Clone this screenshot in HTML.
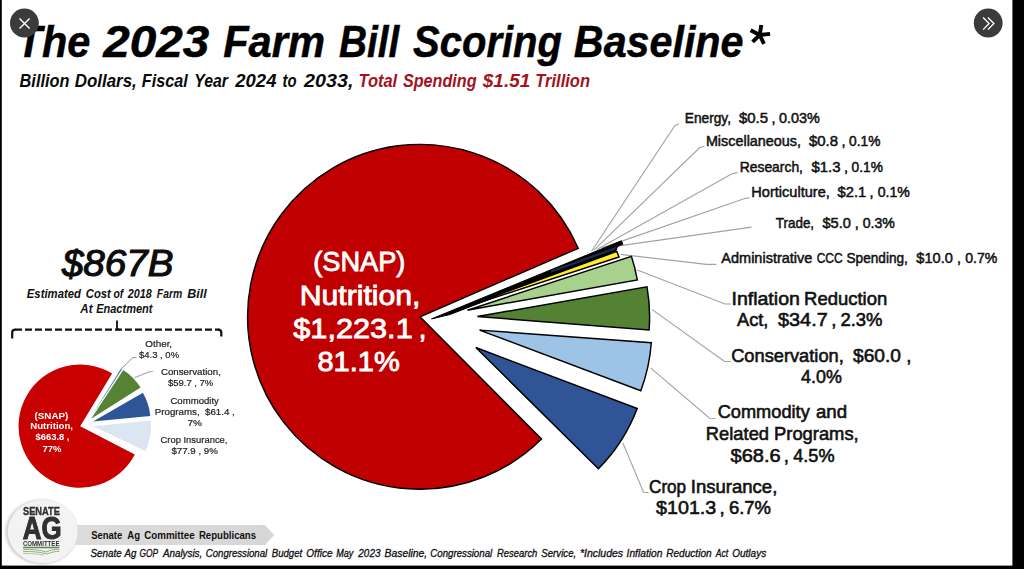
<!DOCTYPE html>
<html><head><meta charset="utf-8"><title>The 2023 Farm Bill Scoring Baseline</title>
<style>
html,body{margin:0;padding:0;background:#fff;}
body{width:1024px;height:569px;overflow:hidden;position:relative;font-family:"Liberation Sans",sans-serif;}
svg{position:absolute;left:0;top:0;display:block;}
text{font-family:"Liberation Sans",sans-serif;white-space:pre;}
.ld{stroke:#a2a2a2;stroke-width:1.15;fill:none;}
.sl{stroke:#000;stroke-width:1.45;stroke-linejoin:miter;}
</style></head><body>
<svg width="1024" height="569" viewBox="0 0 1024 569">
<defs>
<filter id="bl" x="-5%" y="-5%" width="110%" height="110%"><feGaussianBlur stdDeviation="0.55"/></filter>
<filter id="bl2" x="-10%" y="-10%" width="120%" height="120%"><feGaussianBlur stdDeviation="1.2"/></filter>
<linearGradient id="bn" x1="0" x2="1" y1="0" y2="0"><stop offset="0" stop-color="#dcdcdc"/><stop offset="1" stop-color="#d6d6d6"/></linearGradient>
</defs>
<rect x="0" y="0" width="1024" height="569" fill="#fff"/>

<text transform="translate(16.71,57) scale(0.9202,1)" font-size="45" font-weight="bold" font-style="italic" fill="#000" stroke="#000" stroke-width="0.5">The</text>
<text transform="translate(103.24,57) scale(1.0588,1)" font-size="45" font-weight="bold" font-style="italic" fill="#000" stroke="#000" stroke-width="0.5">2023</text>
<text transform="translate(223.15,57) scale(0.9260,1)" font-size="45" font-weight="bold" font-style="italic" fill="#000" stroke="#000" stroke-width="0.5">Farm</text>
<text transform="translate(338.89,57) scale(0.8623,1)" font-size="45" font-weight="bold" font-style="italic" fill="#000" stroke="#000" stroke-width="0.5">Bill</text>
<text transform="translate(413.00,57) scale(0.8894,1)" font-size="45" font-weight="bold" font-style="italic" fill="#000" stroke="#000" stroke-width="0.5">Scoring</text>
<text transform="translate(573.86,57) scale(0.9167,1)" font-size="45" font-weight="bold" font-style="italic" fill="#000" stroke="#000" stroke-width="0.5">Baseline</text>
<path d="M759.7,35 L761.3,25 M759.7,35 L750.6,30.2 M759.7,35 L770.1,33.9 M759.7,35 L752.6,41.9 M759.7,35 L764,43.8" stroke="#000" stroke-width="3.9" fill="none"/>
<text transform="translate(19.54,86.6) scale(0.8797,1)" font-size="18.6" font-weight="bold" font-style="italic" fill="#0a0a0a">Billion</text>
<text transform="translate(74.74,86.6) scale(0.9107,1)" font-size="18.6" font-weight="bold" font-style="italic" fill="#0a0a0a">Dollars,</text>
<text transform="translate(141.75,86.6) scale(0.8713,1)" font-size="18.6" font-weight="bold" font-style="italic" fill="#0a0a0a">Fiscal</text>
<text transform="translate(194.26,86.6) scale(0.8519,1)" font-size="18.6" font-weight="bold" font-style="italic" fill="#0a0a0a">Year</text>
<text transform="translate(235.29,86.6) scale(0.9953,1)" font-size="18.6" font-weight="bold" font-style="italic" fill="#0a0a0a">2024</text>
<text transform="translate(282.54,86.6) scale(0.7985,1)" font-size="18.6" font-weight="bold" font-style="italic" fill="#0a0a0a">to</text>
<text transform="translate(304.11,86.6) scale(1.0606,1)" font-size="18.6" font-weight="bold" font-style="italic" fill="#0a0a0a">2033,</text>
<text transform="translate(358.47,86.6) scale(0.8851,1)" font-size="18.6" font-weight="bold" font-style="italic" fill="#a3131b">Total</text>
<text transform="translate(403.00,86.6) scale(0.8684,1)" font-size="18.6" font-weight="bold" font-style="italic" fill="#a3131b">Spending</text>
<text transform="translate(482.80,86.6) scale(1.0199,1)" font-size="18.6" font-weight="bold" font-style="italic" fill="#a3131b">$1.51</text>
<text transform="translate(535.27,86.6) scale(0.8883,1)" font-size="18.6" font-weight="bold" font-style="italic" fill="#a3131b">Trillion</text>
<polyline class="ld" points="591.5,251.3 675,125.5 679,123.8"/>
<polyline class="ld" points="593.7,250.3 699.5,147.8 704.5,146.2"/>
<polyline class="ld" points="596.9,249.4 731.5,174 737.5,172.4"/>
<polyline class="ld" points="601.6,248.1 744,198.8 749.5,197.6"/>
<polyline class="ld" points="620.6,245.6 751.6,227.1"/>
<polyline class="ld" points="620.6,254.4 706.5,264.4 716.3,264.4"/>
<polyline class="ld" points="637.3,270 725,304 731,304"/>
<polyline class="ld" points="652.2,309.6 724.5,361.5 731,361.5"/>
<polyline class="ld" points="650.6,367.9 709.5,418.3 715.5,418.5"/>
<polyline class="ld" points="622.8,442.9 643.5,492.2 648.5,492.6"/>
<path class="sl" fill="#c00000" d="M420.0,316.8 L541.5,439.1 A172.4,172.4 0 1 1 578.2,248.3 Z"/>
<path fill="#000" stroke="#000" stroke-width="1" stroke-linejoin="miter" d="M431.5,318.9 L621.4,240.8 L622.9,244.2 L617.3,246.8 L616,250.8 L450,314.5 Z"/>
<path fill="#1b2c50" d="M551,270.5 L616.3,246.7 L615.2,249.7 L551,272.7 Z"/>
<path class="sl" stroke-width="1.4" fill="#ffee2e" d="M454,310.9 L616.8,251.4 L619,257 Z"/>
<path class="sl" fill="#a9d18e" d="M467.4,310.2 L631.4,256.3 A172.6,172.6 0 0 1 637.3,279.9 Z"/>
<path class="sl" fill="#548235" d="M477.4,316.5 L647.0,286.9 A172.2,172.2 0 0 1 649.1,330.0 Z"/>
<path class="sl" fill="#9dc3e6" d="M479.6,330.1 L651.3,342.7 A172.2,172.2 0 0 1 640.8,390.7 Z"/>
<path class="sl" fill="#2f5597" d="M475.8,347.5 L637.2,408.5 A172.5,172.5 0 0 1 598.4,468.8 Z"/>
<text transform="translate(313.23,271.2) scale(0.9927,1)" font-size="27.4" font-weight="normal" font-style="normal" fill="#fff" stroke="#fff" stroke-width="0.85">(SNAP)</text>
<text transform="translate(299.64,304.5) scale(1.1029,1)" font-size="27.4" font-weight="normal" font-style="normal" fill="#fff" stroke="#fff" stroke-width="0.85">Nutrition,</text>
<text transform="translate(293.30,338) scale(1.1199,1)" font-size="27.4" font-weight="normal" font-style="normal" fill="#fff" stroke="#fff" stroke-width="0.85">$1,223.1</text>
<text transform="translate(418.80,338) scale(1.0000,1)" font-size="27.4" font-weight="normal" font-style="normal" fill="#fff" stroke="#fff" stroke-width="0.85">,</text>
<text transform="translate(317.39,371.2) scale(1.0616,1)" font-size="27.4" font-weight="normal" font-style="normal" fill="#fff" stroke="#fff" stroke-width="0.85">81.1%</text>
<text transform="translate(684.73,123.1) scale(0.9469,1)" font-size="14.5" font-weight="normal" font-style="normal" fill="#111" stroke="#111" stroke-width="0.5">Energy,</text>
<text transform="translate(739.00,123.1) scale(1.0314,1)" font-size="14.5" font-weight="normal" font-style="normal" fill="#111" stroke="#111" stroke-width="0.5">$0.5</text>
<text transform="translate(771.46,123.1) scale(1.0000,1)" font-size="14.5" font-weight="normal" font-style="normal" fill="#111" stroke="#111" stroke-width="0.5">,</text>
<text transform="translate(779.05,123.1) scale(0.9943,1)" font-size="14.5" font-weight="normal" font-style="normal" fill="#111" stroke="#111" stroke-width="0.5">0.03%</text>
<text transform="translate(705.88,146) scale(0.9926,1)" font-size="14.5" font-weight="normal" font-style="normal" fill="#111" stroke="#111" stroke-width="0.5">Miscellaneous,</text>
<text transform="translate(809.00,146) scale(1.0314,1)" font-size="14.5" font-weight="normal" font-style="normal" fill="#111" stroke="#111" stroke-width="0.5">$0.8</text>
<text transform="translate(841.46,146) scale(1.0000,1)" font-size="14.5" font-weight="normal" font-style="normal" fill="#111" stroke="#111" stroke-width="0.5">,</text>
<text transform="translate(849.07,146) scale(0.9482,1)" font-size="14.5" font-weight="normal" font-style="normal" fill="#111" stroke="#111" stroke-width="0.5">0.1%</text>
<text transform="translate(739.71,172.2) scale(0.9582,1)" font-size="14.5" font-weight="normal" font-style="normal" fill="#111" stroke="#111" stroke-width="0.5">Research,</text>
<text transform="translate(811.50,172.2) scale(1.0314,1)" font-size="14.5" font-weight="normal" font-style="normal" fill="#111" stroke="#111" stroke-width="0.5">$1.3</text>
<text transform="translate(843.96,172.2) scale(1.0000,1)" font-size="14.5" font-weight="normal" font-style="normal" fill="#111" stroke="#111" stroke-width="0.5">,</text>
<text transform="translate(851.57,172.2) scale(0.9482,1)" font-size="14.5" font-weight="normal" font-style="normal" fill="#111" stroke="#111" stroke-width="0.5">0.1%</text>
<text transform="translate(751.36,197) scale(1.0046,1)" font-size="14.5" font-weight="normal" font-style="normal" fill="#111" stroke="#111" stroke-width="0.5">Horticulture,</text>
<text transform="translate(837.50,197) scale(1.0169,1)" font-size="14.5" font-weight="normal" font-style="normal" fill="#111" stroke="#111" stroke-width="0.5">$2.1</text>
<text transform="translate(869.46,197) scale(1.0000,1)" font-size="14.5" font-weight="normal" font-style="normal" fill="#111" stroke="#111" stroke-width="0.5">,</text>
<text transform="translate(877.66,197) scale(0.9731,1)" font-size="14.5" font-weight="normal" font-style="normal" fill="#111" stroke="#111" stroke-width="0.5">0.1%</text>
<text transform="translate(775.79,227.7) scale(0.9261,1)" font-size="14.5" font-weight="normal" font-style="normal" fill="#111" stroke="#111" stroke-width="0.5">Trade,</text>
<text transform="translate(822.50,227.7) scale(1.0086,1)" font-size="14.5" font-weight="normal" font-style="normal" fill="#111" stroke="#111" stroke-width="0.5">$5.0</text>
<text transform="translate(854.86,227.7) scale(1.0000,1)" font-size="14.5" font-weight="normal" font-style="normal" fill="#111" stroke="#111" stroke-width="0.5">,</text>
<text transform="translate(862.66,227.7) scale(0.9731,1)" font-size="14.5" font-weight="normal" font-style="normal" fill="#111" stroke="#111" stroke-width="0.5">0.3%</text>
<text transform="translate(721.30,262.7) scale(1.0014,1)" font-size="14.5" font-weight="normal" font-style="normal" fill="#111" stroke="#111" stroke-width="0.5">Administrative</text>
<text transform="translate(816.64,262.7) scale(0.8269,1)" font-size="14.5" font-weight="normal" font-style="normal" fill="#111" stroke="#111" stroke-width="0.5">CCC</text>
<text transform="translate(846.47,262.7) scale(0.9409,1)" font-size="14.5" font-weight="normal" font-style="normal" fill="#111" stroke="#111" stroke-width="0.5">Spending,</text>
<text transform="translate(916.30,262.7) scale(1.0077,1)" font-size="14.5" font-weight="normal" font-style="normal" fill="#111" stroke="#111" stroke-width="0.5">$10.0</text>
<text transform="translate(956.96,262.7) scale(1.0000,1)" font-size="14.5" font-weight="normal" font-style="normal" fill="#111" stroke="#111" stroke-width="0.5">,</text>
<text transform="translate(965.16,262.7) scale(0.9731,1)" font-size="14.5" font-weight="normal" font-style="normal" fill="#111" stroke="#111" stroke-width="0.5">0.7%</text>
<text transform="translate(731.47,304.5) scale(1.0503,1)" font-size="18.6" font-weight="normal" font-style="normal" fill="#111" stroke="#111" stroke-width="0.6">Inflation</text>
<text transform="translate(804.06,304.5) scale(0.9944,1)" font-size="18.6" font-weight="normal" font-style="normal" fill="#111" stroke="#111" stroke-width="0.6">Reduction</text>
<text transform="translate(737.00,326) scale(0.9787,1)" font-size="18.6" font-weight="normal" font-style="normal" fill="#111" stroke="#111" stroke-width="0.6">Act,</text>
<text transform="translate(778.00,326) scale(1.0701,1)" font-size="18.6" font-weight="normal" font-style="normal" fill="#111" stroke="#111" stroke-width="0.6">$34.7</text>
<text transform="translate(831.13,326) scale(1.0000,1)" font-size="18.6" font-weight="normal" font-style="normal" fill="#111" stroke="#111" stroke-width="0.6">,</text>
<text transform="translate(840.43,326) scale(0.9934,1)" font-size="18.6" font-weight="normal" font-style="normal" fill="#111" stroke="#111" stroke-width="0.6">2.3%</text>
<text transform="translate(731.14,361.5) scale(0.9822,1)" font-size="18.6" font-weight="normal" font-style="normal" fill="#111" stroke="#111" stroke-width="0.6">Conservation,</text>
<text transform="translate(853.00,361.5) scale(1.0308,1)" font-size="18.6" font-weight="normal" font-style="normal" fill="#111" stroke="#111" stroke-width="0.6">$60.0</text>
<text transform="translate(906.13,361.5) scale(1.0000,1)" font-size="18.6" font-weight="normal" font-style="normal" fill="#111" stroke="#111" stroke-width="0.6">,</text>
<text transform="translate(801.02,382.8) scale(0.9627,1)" font-size="18.6" font-weight="normal" font-style="normal" fill="#111" stroke="#111" stroke-width="0.6">4.0%</text>
<text transform="translate(717.65,418.4) scale(0.9798,1)" font-size="18.6" font-weight="normal" font-style="normal" fill="#111" stroke="#111" stroke-width="0.6">Commodity</text>
<text transform="translate(815.92,418.4) scale(1.0031,1)" font-size="18.6" font-weight="normal" font-style="normal" fill="#111" stroke="#111" stroke-width="0.6">and</text>
<text transform="translate(705.87,439.8) scale(0.9852,1)" font-size="18.6" font-weight="normal" font-style="normal" fill="#111" stroke="#111" stroke-width="0.6">Related</text>
<text transform="translate(774.07,439.8) scale(0.9862,1)" font-size="18.6" font-weight="normal" font-style="normal" fill="#111" stroke="#111" stroke-width="0.6">Programs,</text>
<text transform="translate(730.50,461.5) scale(1.0766,1)" font-size="18.6" font-weight="normal" font-style="normal" fill="#111" stroke="#111" stroke-width="0.6">$68.6</text>
<text transform="translate(783.78,461.5) scale(1.0000,1)" font-size="18.6" font-weight="normal" font-style="normal" fill="#111" stroke="#111" stroke-width="0.6">,</text>
<text transform="translate(793.22,461.5) scale(0.9747,1)" font-size="18.6" font-weight="normal" font-style="normal" fill="#111" stroke="#111" stroke-width="0.6">4.5%</text>
<text transform="translate(649.00,493) scale(0.9227,1)" font-size="18.6" font-weight="normal" font-style="normal" fill="#111" stroke="#111" stroke-width="0.6">Crop</text>
<text transform="translate(690.85,493) scale(0.9963,1)" font-size="18.6" font-weight="normal" font-style="normal" fill="#111" stroke="#111" stroke-width="0.6">Insurance,</text>
<text transform="translate(656.00,514) scale(1.0599,1)" font-size="18.6" font-weight="normal" font-style="normal" fill="#111" stroke="#111" stroke-width="0.6">$101.3</text>
<text transform="translate(719.53,514) scale(1.0000,1)" font-size="18.6" font-weight="normal" font-style="normal" fill="#111" stroke="#111" stroke-width="0.6">,</text>
<text transform="translate(728.93,514) scale(0.9934,1)" font-size="18.6" font-weight="normal" font-style="normal" fill="#111" stroke="#111" stroke-width="0.6">6.7%</text>
<text transform="translate(61.90,276.3) scale(1.0633,1)" font-size="36.3" font-weight="normal" font-style="italic" fill="#0c0c0c" stroke="#0c0c0c" stroke-width="1.1">$867B</text>
<text transform="translate(26.82,297.5) scale(0.9440,1)" font-size="12" font-weight="bold" font-style="italic" fill="#111">Estimated</text>
<text transform="translate(85.77,297.5) scale(0.9396,1)" font-size="12" font-weight="bold" font-style="italic" fill="#111">Cost</text>
<text transform="translate(113.44,297.5) scale(0.8685,1)" font-size="12" font-weight="bold" font-style="italic" fill="#111">of</text>
<text transform="translate(127.67,297.5) scale(0.9014,1)" font-size="12" font-weight="bold" font-style="italic" fill="#111">2018</text>
<text transform="translate(156.84,297.5) scale(0.8681,1)" font-size="12" font-weight="bold" font-style="italic" fill="#111">Farm</text>
<text transform="translate(187.30,297.5) scale(1.0423,1)" font-size="12" font-weight="bold" font-style="italic" fill="#111">Bill</text>
<text transform="translate(80.36,312.6) scale(0.9600,1)" font-size="12" font-weight="bold" font-style="italic" fill="#111">At</text>
<text transform="translate(96.13,312.6) scale(0.9195,1)" font-size="12" font-weight="bold" font-style="italic" fill="#111">Enactment</text>
<path d="M15,329.6 L219.5,329.6" fill="none" stroke="#111" stroke-width="2.4" stroke-dasharray="7 3"/>
<path d="M12.2,338.6 L12.2,332.2 Q12.2,329.6 15.5,329.6" fill="none" stroke="#111" stroke-width="2.2"/>
<path d="M218,329.6 Q221.3,329.6 221.3,332.4 L221.3,336.6" fill="none" stroke="#111" stroke-width="2.2"/>
<path d="M117,320.5 L117,328 Q117,329.6 119.5,329.6" fill="none" stroke="#111" stroke-width="1.8"/>
<g filter="url(#bl)">
<polyline points="121.2,369 132.5,357.8 136.5,357.3" fill="none" stroke="#8494a6" stroke-width="1"/>
<polyline points="134.4,377.8 148.8,371.9 153,371.5" fill="none" stroke="#aeaeae" stroke-width="1.2"/>
<path fill="#c80606" d="M80.2,426.2 L134.8,454.6 A61.6,61.6 0 1 1 112.1,373.5 Z"/>
<path fill="#4a72b0" d="M90.5,417.8 L121,368.6 L122,369.3 Z"/>
<path fill="#548235" d="M91.2,418.7 L123.3,369.9 A58.4,58.4 0 0 1 140.6,387.6 Z"/>
<path fill="#2f5597" d="M93.0,421.6 L142.9,392.8 A57.6,57.6 0 0 1 150.3,416.0 Z"/>
<path fill="#dce5f2" d="M93.2,426.2 L150.7,420.4 A57.8,57.8 0 0 1 145.4,451.0 Z"/>
<text transform="translate(34.54,418.6) scale(1.0018,1)" font-size="9.8" font-weight="bold" font-style="normal" fill="#fff">(SNAP)</text>
<text transform="translate(30.30,429.3) scale(0.9822,1)" font-size="9.8" font-weight="bold" font-style="normal" fill="#fff">Nutrition,</text>
<text transform="translate(35.60,440.3) scale(0.9586,1)" font-size="9.8" font-weight="bold" font-style="normal" fill="#fff">$663.8 ,</text>
<text transform="translate(42.40,451.5) scale(0.9651,1)" font-size="9.8" font-weight="bold" font-style="normal" fill="#fff">77%</text>
<text transform="translate(145.34,346.9) scale(1.0466,1)" font-size="9.4" font-weight="normal" font-style="normal" fill="#222" stroke="#222" stroke-width="0.2">Other,</text>
<text transform="translate(139.00,358.2) scale(1.0092,1)" font-size="9.4" font-weight="normal" font-style="normal" fill="#222" stroke="#222" stroke-width="0.2">$4.3 , 0%</text>
<text transform="translate(160.94,374.7) scale(1.0342,1)" font-size="9.4" font-weight="normal" font-style="normal" fill="#222" stroke="#222" stroke-width="0.2">Conservation,</text>
<text transform="translate(168.00,385.7) scale(1.0075,1)" font-size="9.4" font-weight="normal" font-style="normal" fill="#222" stroke="#222" stroke-width="0.2">$59.7 , 7%</text>
<text transform="translate(170.45,404.1) scale(1.0193,1)" font-size="9.4" font-weight="normal" font-style="normal" fill="#222" stroke="#222" stroke-width="0.2">Commodity</text>
<text transform="translate(154.84,415.3) scale(1.0357,1)" font-size="9.4" font-weight="normal" font-style="normal" fill="#222" stroke="#222" stroke-width="0.2">Programs,  $61.4 ,</text>
<text transform="translate(187.53,426) scale(1.0649,1)" font-size="9.4" font-weight="normal" font-style="normal" fill="#222" stroke="#222" stroke-width="0.2">7%</text>
<text transform="translate(160.46,442.6) scale(1.0025,1)" font-size="9.4" font-weight="normal" font-style="normal" fill="#222" stroke="#222" stroke-width="0.2">Crop Insurance,</text>
<text transform="translate(171.40,453.7) scale(1.0344,1)" font-size="9.4" font-weight="normal" font-style="normal" fill="#222" stroke="#222" stroke-width="0.2">$77.9 , 9%</text>
</g>
<path d="M60,524.9 L265,524.9 L274.2,534.9 L265,544.9 L60,544.9 Z" fill="url(#bn)"/>
<text transform="translate(91.15,539.4) scale(0.8696,1)" font-size="10.9" font-weight="bold" font-style="normal" fill="#111">Senate</text>
<text transform="translate(127.35,539.4) scale(0.8783,1)" font-size="10.9" font-weight="bold" font-style="normal" fill="#111">Ag</text>
<text transform="translate(144.19,539.4) scale(0.8974,1)" font-size="10.9" font-weight="bold" font-style="normal" fill="#111">Committee</text>
<text transform="translate(198.90,539.4) scale(0.8840,1)" font-size="10.9" font-weight="bold" font-style="normal" fill="#111">Republicans</text>
<text transform="translate(90.45,557.3) scale(0.9876,1)" font-size="10" font-weight="normal" font-style="italic" fill="#111" stroke="#111" stroke-width="0.3">Senate</text>
<text transform="translate(124.60,557.3) scale(0.9675,1)" font-size="10" font-weight="normal" font-style="italic" fill="#111" stroke="#111" stroke-width="0.3">Ag</text>
<text transform="translate(139.41,557.3) scale(0.8346,1)" font-size="10" font-weight="normal" font-style="italic" fill="#111" stroke="#111" stroke-width="0.3">GOP</text>
<text transform="translate(162.91,557.3) scale(0.9828,1)" font-size="10" font-weight="normal" font-style="italic" fill="#111" stroke="#111" stroke-width="0.3">Analysis,</text>
<text transform="translate(205.75,557.3) scale(0.9634,1)" font-size="10" font-weight="normal" font-style="italic" fill="#111" stroke="#111" stroke-width="0.3">Congressional</text>
<text transform="translate(271.75,557.3) scale(0.9597,1)" font-size="10" font-weight="normal" font-style="italic" fill="#111" stroke="#111" stroke-width="0.3">Budget</text>
<text transform="translate(306.33,557.3) scale(1.0039,1)" font-size="10" font-weight="normal" font-style="italic" fill="#111" stroke="#111" stroke-width="0.3">Office</text>
<text transform="translate(336.16,557.3) scale(0.9091,1)" font-size="10" font-weight="normal" font-style="italic" fill="#111" stroke="#111" stroke-width="0.3">May</text>
<text transform="translate(358.36,557.3) scale(0.9926,1)" font-size="10" font-weight="normal" font-style="italic" fill="#111" stroke="#111" stroke-width="0.3">2023</text>
<text transform="translate(384.54,557.3) scale(1.0370,1)" font-size="10" font-weight="normal" font-style="italic" fill="#111" stroke="#111" stroke-width="0.3">Baseline,</text>
<text transform="translate(430.35,557.3) scale(0.9681,1)" font-size="10" font-weight="normal" font-style="italic" fill="#111" stroke="#111" stroke-width="0.3">Congressional</text>
<text transform="translate(497.05,557.3) scale(0.9423,1)" font-size="10" font-weight="normal" font-style="italic" fill="#111" stroke="#111" stroke-width="0.3">Research</text>
<text transform="translate(541.15,557.3) scale(0.9740,1)" font-size="10" font-weight="normal" font-style="italic" fill="#111" stroke="#111" stroke-width="0.3">Service,</text>
<text transform="translate(579.91,557.3) scale(1.0515,1)" font-size="10" font-weight="normal" font-style="italic" fill="#111" stroke="#111" stroke-width="0.3">*Includes</text>
<text transform="translate(626.58,557.3) scale(1.0231,1)" font-size="10" font-weight="normal" font-style="italic" fill="#111" stroke="#111" stroke-width="0.3">Inflation</text>
<text transform="translate(666.14,557.3) scale(1.0120,1)" font-size="10" font-weight="normal" font-style="italic" fill="#111" stroke="#111" stroke-width="0.3">Reduction</text>
<text transform="translate(715.74,557.3) scale(0.8560,1)" font-size="10" font-weight="normal" font-style="italic" fill="#111" stroke="#111" stroke-width="0.3">Act</text>
<text transform="translate(732.23,557.3) scale(1.0007,1)" font-size="10" font-weight="normal" font-style="italic" fill="#111" stroke="#111" stroke-width="0.3">Outlays</text>
<ellipse cx="41.5" cy="532" rx="36.3" ry="32.6" fill="#d2d2d2" filter="url(#bl2)"/>
<g filter="url(#bl)">
<ellipse cx="42.8" cy="531.5" rx="35" ry="31.6" fill="#f3f3f3"/>
<text transform="translate(22.96,515) scale(0.8823,1)" font-size="10.5" font-weight="bold" font-style="normal" fill="#303030" stroke="#303030" stroke-width="0.35">SENATE</text>
<text transform="translate(22.70,538.6) scale(0.8167,1)" font-size="31.7" font-weight="bold" font-style="normal" fill="#303030" stroke="#303030" stroke-width="1.1">AG</text>
<text transform="translate(22.91,545.5) scale(0.8346,1)" font-size="7.3" font-weight="bold" font-style="normal" fill="#303030">COMMITTEE</text>
<path d="M23.1,547.5 L59.3,547.5" stroke="#5f8548" stroke-width="1.3" fill="none"/>
<path d="M23.1,549.6 C32,549.2 40,549.8 46,552 C51,549.8 55,549.3 59.3,549.3" stroke="#86a86c" stroke-width="0.9" fill="none"/>
<path d="M23.1,551.6 C32,551.2 40,552 47,554 C52,552 56,551.3 59.3,551.3" stroke="#86a86c" stroke-width="0.9" fill="none"/>
<path d="M23.1,553.6 C32,553.3 38,554 44,555.2" stroke="#a2be8c" stroke-width="0.8" fill="none"/>
</g>
<circle cx="24.4" cy="23" r="14.4" fill="#3b3b3b"/>
<path d="M19.5,18.5 L29.6,28.6 M29.6,18.5 L19.5,28.6" stroke="#fff" stroke-width="1.4" fill="none"/>
<circle cx="988.2" cy="23" r="14.4" fill="#3b3b3b"/>
<path d="M983.1,17.5 L989.1,23.5 L983.1,29.6 M987.9,17.5 L993.9,23.5 L987.9,29.6" stroke="#fff" stroke-width="1.3" fill="none"/>
<rect x="0" y="0" width="1.8" height="569" fill="#000"/>
<rect x="1012.4" y="0" width="12" height="569" fill="#000"/>
<rect x="0" y="565.6" width="1024" height="4" fill="#000"/>
</svg></body></html>
